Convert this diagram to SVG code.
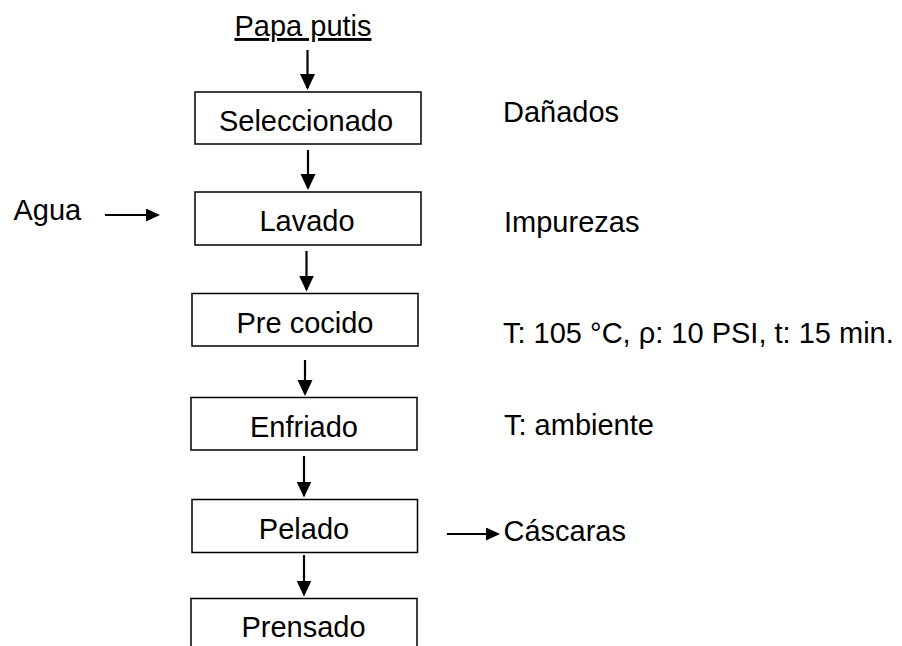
<svg xmlns="http://www.w3.org/2000/svg" width="902" height="646" viewBox="0 0 902 646">
  <defs>
    <style>
      .box { fill: #ffffff; stroke: #000000; stroke-width: 1.5; }
      .t { font-family: "Liberation Sans", Arial, sans-serif; font-size: 29px; fill: #000000; }
      .c { text-anchor: middle; }
      .arr { stroke: #000000; stroke-width: 2.2; fill: none; marker-end: url(#ah); }
      .arrs { stroke: #000000; stroke-width: 2.2; fill: none; marker-end: url(#ahs); }
    </style>
    <marker id="ah" markerUnits="userSpaceOnUse" markerWidth="18" markerHeight="16" refX="14" refY="7.5" orient="auto">
      <path d="M0,0 L16,7.5 L0,15 Z" fill="#000000"/>
    </marker>
    <marker id="ahs" markerUnits="userSpaceOnUse" markerWidth="16" markerHeight="14" refX="12" refY="6.5" orient="auto">
      <path d="M0,0 L14,6.5 L0,13 Z" fill="#000000"/>
    </marker>
  </defs>
  <rect width="902" height="646" fill="#ffffff"/>

  <g id="input-papa">
    <text class="t c" x="303" y="36" text-decoration="underline">Papa putis</text>
  </g>

  <g id="node-seleccionado">
    <rect class="box" x="195" y="92" width="226" height="52"/>
    <text class="t c" x="306" y="130.5">Seleccionado</text>
  </g>
  <g id="node-lavado">
    <rect class="box" x="195" y="192" width="226" height="53"/>
    <text class="t c" x="307" y="230.5">Lavado</text>
  </g>
  <g id="node-precocido">
    <rect class="box" x="192" y="293.5" width="226" height="52.5"/>
    <text class="t c" x="305" y="332.7">Pre cocido</text>
  </g>
  <g id="node-enfriado">
    <rect class="box" x="191" y="397.5" width="226" height="52.5"/>
    <text class="t c" x="304" y="436.7">Enfriado</text>
  </g>
  <g id="node-pelado">
    <rect class="box" x="192" y="499.5" width="225.5" height="53"/>
    <text class="t c" x="304" y="539.3">Pelado</text>
  </g>
  <g id="node-prensado">
    <rect class="box" x="191" y="598.5" width="226" height="60"/>
    <text class="t c" x="303.5" y="636.7">Prensado</text>
  </g>

  <g id="label-agua">
    <text class="t" x="13.5" y="220">Agua</text>
  </g>
  <g id="label-danados">
    <text class="t" x="503" y="122.3">Dañados</text>
  </g>
  <g id="label-impurezas">
    <text class="t" x="504" y="231.7">Impurezas</text>
  </g>
  <g id="label-precocido-cond">
    <text class="t" x="503" y="343.3">T: 105 °C, ρ: 10 PSI, t: 15 min.</text>
  </g>
  <g id="label-enfriado-cond">
    <text class="t" x="504" y="435">T: ambiente</text>
  </g>
  <g id="label-cascaras">
    <text class="t" x="503.5" y="541">Cáscaras</text>
  </g>

  <g id="connectors">
    <line class="arr" x1="307.5" y1="50" x2="307.5" y2="88"/>
    <line class="arr" x1="308" y1="150" x2="308" y2="188"/>
    <line class="arr" x1="306.5" y1="251" x2="306.5" y2="289.5"/>
    <line class="arr" x1="305" y1="360" x2="305" y2="394"/>
    <line class="arr" x1="304" y1="456" x2="304" y2="495.5"/>
    <line class="arr" x1="304" y1="555" x2="304" y2="594.5"/>
    <line class="arrs" x1="105" y1="215" x2="158" y2="215"/>
    <line class="arrs" x1="447" y1="534" x2="498" y2="534"/>
  </g>
</svg>
